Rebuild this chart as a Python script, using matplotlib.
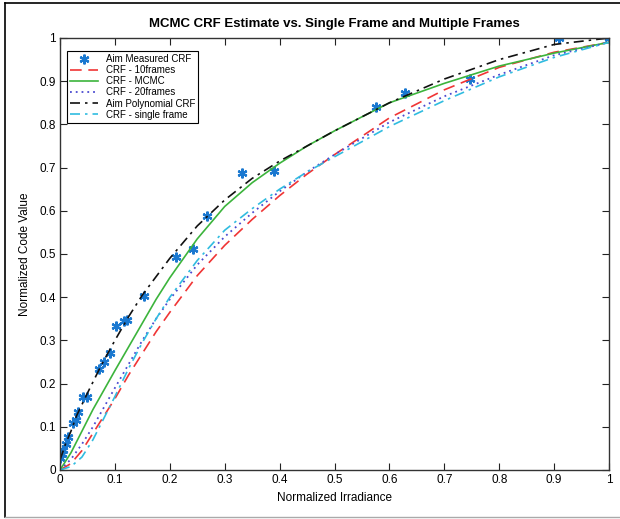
import matplotlib
matplotlib.use("Agg")
import matplotlib.pyplot as plt
from matplotlib.lines import Line2D

plt.rcParams['font.family'] = ['Liberation Sans', 'DejaVu Sans']

# Measured points
meas_x = [0.0, 0.003, 0.006, 0.011, 0.014, 0.024, 0.029, 0.033, 0.042, 0.049,
          0.071, 0.080, 0.091, 0.102, 0.117, 0.122, 0.153, 0.211, 0.242, 0.268,
          0.331, 0.389, 0.576, 0.628, 0.746, 0.909, 1.0]
meas_y = [0.027, 0.037, 0.046, 0.060, 0.076, 0.109, 0.116, 0.134, 0.168, 0.170,
          0.234, 0.251, 0.271, 0.333, 0.345, 0.347, 0.403, 0.493, 0.512, 0.589,
          0.687, 0.693, 0.840, 0.873, 0.904, 0.999, 1.0]

# Curves
x_grid = [0, 0.02, 0.04, 0.06, 0.08, 0.1, 0.125, 0.15, 0.175, 0.2, 0.25, 0.3,
          0.35, 0.4, 0.45, 0.5, 0.6, 0.7, 0.8, 0.9, 1.0]
crf_10 = [0, 0.015, 0.045, 0.085, 0.125, 0.165, 0.22, 0.27, 0.32, 0.365, 0.45,
          0.52, 0.58, 0.635, 0.685, 0.73, 0.815, 0.88, 0.932, 0.967, 0.99]
crf_mcmc = [0, 0.04, 0.09, 0.14, 0.185, 0.23, 0.285, 0.34, 0.395, 0.445, 0.535,
            0.61, 0.665, 0.71, 0.75, 0.785, 0.85, 0.895, 0.935, 0.965, 0.99]
crf_20 = [0, 0.025, 0.06, 0.10, 0.145, 0.19, 0.245, 0.30, 0.35, 0.395, 0.475,
          0.54, 0.595, 0.645, 0.69, 0.73, 0.805, 0.865, 0.915, 0.96, 0.99]
poly_x = [0, 0.01, 0.02, 0.03, 0.05, 0.075, 0.1, 0.125, 0.15, 0.2, 0.25, 0.3,
          0.35, 0.4, 0.45, 0.5, 0.6, 0.7, 0.8, 0.9, 1.0]
crf_poly = [0.023, 0.06, 0.09, 0.125, 0.178, 0.242, 0.30, 0.355, 0.405, 0.49, 0.565,
            0.625, 0.675, 0.715, 0.75, 0.785, 0.85, 0.905, 0.95, 0.985, 1.0]
crf_single = [0, 0.008, 0.03, 0.07, 0.12, 0.17, 0.235, 0.295, 0.35, 0.40, 0.485,
              0.555, 0.605, 0.65, 0.69, 0.725, 0.795, 0.855, 0.91, 0.955, 0.99]

x_ticks = [0, 0.1, 0.2, 0.3, 0.4, 0.5, 0.6, 0.7, 0.8, 0.9, 1]
tick_labels = ['0', '0.1', '0.2', '0.3', '0.4', '0.5', '0.6', '0.7', '0.8', '0.9', '1']

fig = plt.figure(figsize=(6.2, 5.19), dpi=100)
ax = fig.add_axes([60/620, 49/519, 549/620, 432/519])

ax.plot(meas_x, meas_y, linestyle='none', marker=(6, 2, 0), markersize=7,
        markeredgewidth=1.6, color='#1a78d0', label='Aim Measured CRF')
ax.plot(x_grid, crf_10, color='#f03535', linestyle=(0, (7, 4)), lw=1.2,
        label='CRF - 10frames')
ax.plot(x_grid, crf_mcmc, color='#3cb43c', linestyle='-', lw=1.2,
        label='CRF - MCMC')
ax.plot(x_grid, crf_20, color='#4a4ad0', linestyle=(0, (1, 2.2)), lw=1.3,
        label='CRF - 20frames')
ax.plot(poly_x, crf_poly, color='#111111', linestyle=(0, (6, 3, 1.5, 3)), lw=1.2,
        label='Aim Polynomial CRF')
ax.plot(x_grid, crf_single, color='#30bce0', linestyle=(0, (6, 3, 1.5, 3)), lw=1.2,
        label='CRF - single frame')

ax.set_xlim(0, 1)
ax.set_ylim(0, 1)
ax.set_xticks(x_ticks)
ax.set_xticklabels(tick_labels)
ax.set_yticks(x_ticks)
ax.set_yticklabels(tick_labels)
ax.tick_params(direction='in', length=5, width=0.8, labelsize=8.5,
               top=True, right=True, pad=3, colors='#222222', labelcolor='black')
for s in ax.spines.values():
    s.set_color('#333333')
    s.set_linewidth(1.0)

ax.set_title('MCMC CRF Estimate vs. Single Frame and Multiple Frames',
             fontsize=9.5, fontweight='bold', pad=8)
ax.set_xlabel('Normalized Irradiance', fontsize=8.5, labelpad=4)
ax.set_ylabel('Normalized Code Value', fontsize=8.5, labelpad=6)

leg = ax.legend(loc='upper left', bbox_to_anchor=(7/549, 1 - 13/432),
                fontsize=7, frameon=True, fancybox=False, framealpha=1,
                edgecolor='black', handlelength=2.9, borderpad=0.3,
                labelspacing=0.12, handletextpad=0.8, borderaxespad=0)
leg.get_frame().set_linewidth(0.8)

# figure frame
fig.add_artist(Line2D([5/620, 5/620], [2/519, 516/519], color='black', lw=1.2,
                      transform=fig.transFigure))
fig.add_artist(Line2D([5/620, 1.0], [516/519, 516/519], color='black', lw=1.2,
                      transform=fig.transFigure))
fig.add_artist(Line2D([5/620, 1.0], [2/519, 2/519], color='#aaaaaa', lw=1.0,
                      transform=fig.transFigure))

fig.savefig('out.png', dpi=100)
